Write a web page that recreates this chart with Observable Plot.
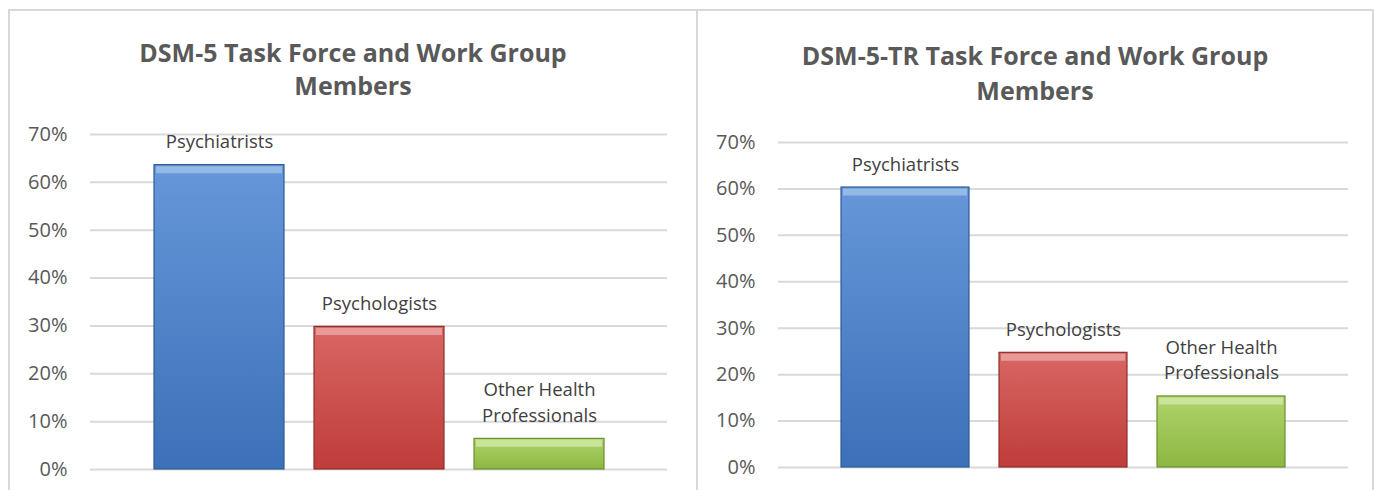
<!DOCTYPE html>
<html>
<head>
<meta charset="utf-8">
<script src="https://cdn.jsdelivr.net/npm/d3@7"></script>
<script src="https://cdn.jsdelivr.net/npm/@observablehq/plot@0.6"></script>
<style>
  html, body { margin: 0; padding: 0; background: #ffffff; }
  #root { position: relative; width: 1374px; height: 490px; overflow: hidden; font-family: "Open Sans", sans-serif; }
  .frame { position: absolute; left: 8px; top: 9px; width: 1366px; height: 520px; border: 2px solid #d9d9d9; box-sizing: border-box; }
  .divider { position: absolute; left: 696px; top: 9px; width: 2px; height: 490px; background: #d9d9d9; }
  .title { position: absolute; text-align: center; font-weight: 700; font-size: 25px; color: #595959; }
  .chart { position: absolute; }
</style>
</head>
<body>
<div id="root">
  <div class="frame"></div>
  <div class="divider"></div>
  <div class="title" id="t1" style="left:9px; width:688px; top:36px; line-height:33px;">DSM-5 Task Force and Work Group<br>Members</div>
  <div class="title" id="t2" style="left:697px; width:676px; top:38px; line-height:35px;">DSM-5-TR Task Force and Work Group<br>Members</div>
  <div class="chart" id="c1" style="left:0px; top:100px;"></div>
  <div class="chart" id="c2" style="left:690px; top:100px;"></div>
</div>
<script>
// ---- data ----
const categories = ["Psychiatrists", "Psychologists", "Other Health Professionals"];
const labelLines = ["Psychiatrists", "Psychologists", "Other Health\nProfessionals"];
const dsm5Values = [0.636, 0.298, 0.064];
const dsm5trValues = [0.603, 0.247, 0.153];
const yTickValues = [0, 0.1, 0.2, 0.3, 0.4, 0.5, 0.6, 0.7];
const yTickLabels = ["0%", "10%", "20%", "30%", "40%", "50%", "60%", "70%"];

// ---- styles ----
const barTop = ["#6597d9", "#d86764", "#b0d46c"];
const barBottom = ["#3c70b8", "#bf3c39", "#8cb741"];
const barEdge = ["#2f5b95", "#8e2f2c", "#6b8f2f"];
const barHighlight = ["#9cbfea", "#eba3a1", "#d0e7a6"];

function tickLabel(d) {
  const i = yTickValues.findIndex(v => Math.abs(v - d) < 1e-9);
  return i >= 0 ? yTickLabels[i] : "";
}

function panel(prefix, values, cfg) {
  const rows = categories.map((c, i) => ({category: c, label: labelLines[i], value: values[i], idx: i}));
  const svg = Plot.plot({
    width: cfg.width,
    height: cfg.height,
    marginLeft: cfg.marginLeft,
    marginRight: cfg.marginRight,
    marginTop: cfg.marginTop,
    marginBottom: cfg.marginBottom,
    style: {fontFamily: "'Open Sans', sans-serif", fontSize: "20px", color: "#595959", background: "transparent", overflow: "visible"},
    x: {domain: categories, axis: null, paddingInner: cfg.paddingInner, paddingOuter: cfg.paddingOuter},
    y: {domain: [0, 0.7], axis: null, label: null},
    color: {type: "identity"},
    marks: [
      Plot.ruleY(yTickValues, {stroke: "#d9d9d9", strokeWidth: 2}),
      Plot.axisY({ticks: yTickValues, tickFormat: tickLabel, tickSize: 0, tickPadding: 23, fontSize: 20, fill: "#595959", label: null}),
      Plot.barY(rows, {x: "category", y: "value", fill: d => `url(#${prefix}-g${d.idx})`, stroke: d => barEdge[d.idx], strokeWidth: 1.2}),
      Plot.tickY(rows, {x: "category", y: "value", stroke: d => barHighlight[d.idx], strokeWidth: 7, dy: 4.5, inset: 2, strokeOpacity: 0.85}),
      Plot.text(rows, {x: "category", y: "value", text: "label", lineAnchor: "bottom", dy: -17, fontSize: 18.5, fill: "#404040", lineHeight: 1.4})
    ]
  });
  const defs = d3.select(svg).insert("defs", ":first-child");
  barTop.forEach((c, i) => {
    const g = defs.append("linearGradient").attr("id", `${prefix}-g${i}`).attr("x1", 0).attr("y1", 0).attr("x2", 0).attr("y2", 1);
    g.append("stop").attr("offset", "0%").attr("stop-color", c);
    g.append("stop").attr("offset", "100%").attr("stop-color", barBottom[i]);
  });
  return svg;
}

document.getElementById("c1").appendChild(panel("p1", dsm5Values, {
  width: 697, height: 390, marginLeft: 90, marginRight: 30, marginTop: 34, marginBottom: 21,
  paddingInner: 0.19, paddingOuter: 0.3925
}));
document.getElementById("c2").appendChild(panel("p2", dsm5trValues, {
  width: 684, height: 390, marginLeft: 88, marginRight: 26, marginTop: 42, marginBottom: 23,
  paddingInner: 0.187, paddingOuter: 0.397
}));
</script>
</body>
</html>
